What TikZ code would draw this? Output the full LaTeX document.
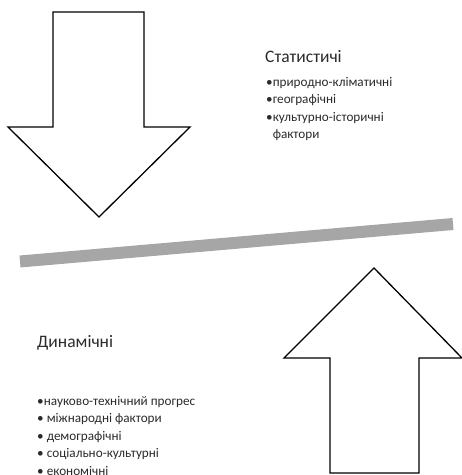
\documentclass[tikz,border=0pt]{standalone}
\usepackage{fontspec}
\setmainfont{Carlito}
\usepackage{xcolor}
\usetikzlibrary{positioning, calc}
\definecolor{textdark}{HTML}{2B2B2B}
\definecolor{barcolor}{HTML}{A6A6A6}

\tikzset{
  bigarrow/.style={draw=black, line width=1.3pt, fill=white, line join=miter},
  headtext/.style={anchor=base west, inner sep=0pt, text=textdark, font=\fontsize{17.5}{20}\selectfont},
  % base of a multi-line node is the baseline of its last line
  itemtext/.style={anchor=base west, inner sep=0pt, align=left, text=textdark, font=\fontsize{13.2}{17.4}\selectfont}
}

\begin{document}
\begin{tikzpicture}[x=1pt, y=-1pt]
\useasboundingbox (0,0) rectangle (462,475);

% arrow pointing down
\draw[bigarrow] (53,12) -- (144,12) -- (144,127) -- (190,127) -- (99,217)
  -- (8,127) -- (53,127) -- cycle;

% arrow pointing up
\draw[bigarrow] (330,473) -- (330,358) -- (284,358) -- (374,268) -- (462,358)
  -- (419,358) -- (419,473) -- cycle;

% tilted bar
\coordinate (barL) at (20,261.5);
\coordinate (barR) at (453,224);
\draw[barcolor, line width=12pt] (barL) -- (barR);

% upper texts
\node[headtext] (stathead) at (265,62) {Статистичі};
\node[itemtext] (statlist) at (266,138.7) {•природно-кліматичні\\
•географічні\\
•культурно-історичні\\
\hphantom{•}фактори};

% lower texts
\node[headtext] (dynhead) at (37,347) {Динамічні};
\node[itemtext] (dynlist) at (37,475.1) {•науково-технічний прогрес\\
• міжнародні фактори\\
• демографічні\\
• соціально-культурні\\
• економічні};
\end{tikzpicture}
\end{document}
